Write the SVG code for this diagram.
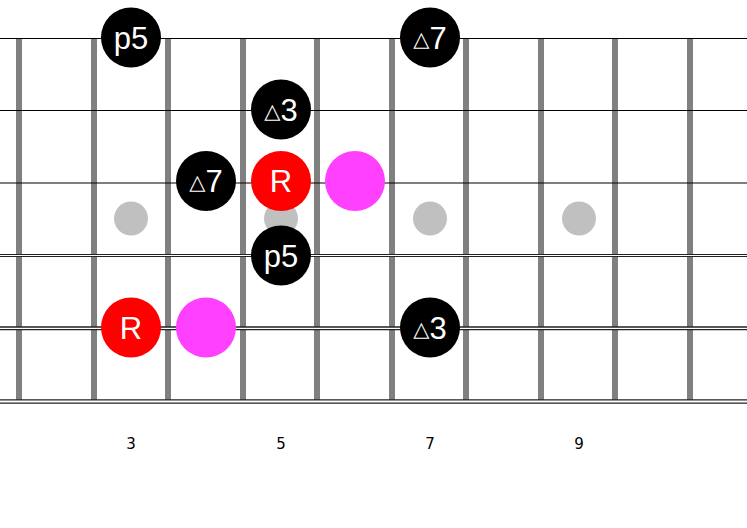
<svg xmlns="http://www.w3.org/2000/svg" width="747" height="528" viewBox="0 0 747 528">
<style>
.fret{stroke:#808080;stroke-width:6}
.str{stroke:#000;stroke-width:1.2}
.dstr{stroke:#222}
.inlay{fill:#c0c0c0}
.blk{fill:#000}
.red{fill:#ff0000}
.mag{fill:#ff40ff}
.lbl{fill:#fff;font-family:"Liberation Sans",Arial,sans-serif;font-size:31px;text-anchor:middle}
.tri{font-family:"DejaVu Sans",sans-serif;font-size:21px}
.num{fill:#000;font-family:"DejaVu Sans",sans-serif;font-size:15px;text-anchor:middle}
</style>
<rect width="747" height="528" fill="#fff"/>
<g id="fretboard">
<line class="fret" x1="19" y1="38" x2="19" y2="400"/>
<line class="fret" x1="94" y1="38" x2="94" y2="400"/>
<line class="fret" x1="168" y1="38" x2="168" y2="400"/>
<line class="fret" x1="243" y1="38" x2="243" y2="400"/>
<line class="fret" x1="317" y1="38" x2="317" y2="400"/>
<line class="fret" x1="392" y1="38" x2="392" y2="400"/>
<line class="fret" x1="466" y1="38" x2="466" y2="400"/>
<line class="fret" x1="541" y1="38" x2="541" y2="400"/>
<line class="fret" x1="615" y1="38" x2="615" y2="400"/>
<line class="fret" x1="690" y1="38" x2="690" y2="400"/>
<line class="str" x1="0" y1="38.5" x2="747" y2="38.5"/>
<line class="str" x1="0" y1="110.5" x2="747" y2="110.5"/>
<line class="str" x1="0" y1="183" x2="747" y2="183"/>
<line class="dstr" x1="0" y1="255.5" x2="747" y2="255.5" stroke-width="3"/>
<line x1="0" y1="255.5" x2="747" y2="255.5" stroke="#fff" stroke-width="1"/>
<line class="dstr" x1="0" y1="328.3" x2="747" y2="328.3" stroke-width="4"/>
<line x1="0" y1="328.3" x2="747" y2="328.3" stroke="#fff" stroke-width="1.3"/>
<line class="dstr" x1="0" y1="401.5" x2="747" y2="401.5" stroke-width="4.5"/>
<line x1="0" y1="401.5" x2="747" y2="401.5" stroke="#fff" stroke-width="2"/>
<circle class="inlay" cx="131" cy="218.5" r="17"/>
<circle class="inlay" cx="281" cy="218.5" r="17"/>
<circle class="inlay" cx="430" cy="218.5" r="17"/>
<circle class="inlay" cx="579" cy="218.5" r="17"/>
</g>
<g id="n1"><circle class="blk" cx="131" cy="37.5" r="30"/><text class="lbl" x="131" y="48.5">p5</text></g>
<g id="n2"><circle class="blk" cx="430" cy="37.5" r="30"/><text class="lbl" x="430" y="48.5"><tspan class="tri" dy="-3">△</tspan><tspan dy="3">7</tspan></text></g>
<g id="n3"><circle class="blk" cx="281" cy="109.5" r="30"/><text class="lbl" x="281" y="120.5"><tspan class="tri" dy="-3">△</tspan><tspan dy="3">3</tspan></text></g>
<g id="n4"><circle class="blk" cx="206" cy="181" r="30"/><text class="lbl" x="206" y="192"><tspan class="tri" dy="-3">△</tspan><tspan dy="3">7</tspan></text></g>
<g id="n5"><circle class="red" cx="281" cy="181" r="30"/><text class="lbl" x="281" y="192">R</text></g>
<g id="n6"><circle class="mag" cx="355" cy="181" r="30"/></g>
<g id="n7"><circle class="blk" cx="281" cy="255.5" r="30"/><text class="lbl" x="281" y="266.5">p5</text></g>
<g id="n8"><circle class="red" cx="131" cy="327.5" r="30"/><text class="lbl" x="131" y="338.5">R</text></g>
<g id="n9"><circle class="mag" cx="206" cy="327.5" r="30"/></g>
<g id="n10"><circle class="blk" cx="430" cy="327.5" r="30"/><text class="lbl" x="430" y="338.5"><tspan class="tri" dy="-3">△</tspan><tspan dy="3">3</tspan></text></g>
<g id="labels">
<text class="num" x="131" y="448.5">3</text>
<text class="num" x="281" y="448.5">5</text>
<text class="num" x="430" y="448.5">7</text>
<text class="num" x="579" y="448.5">9</text>
</g>
<g id="connectors"/>
</svg>
